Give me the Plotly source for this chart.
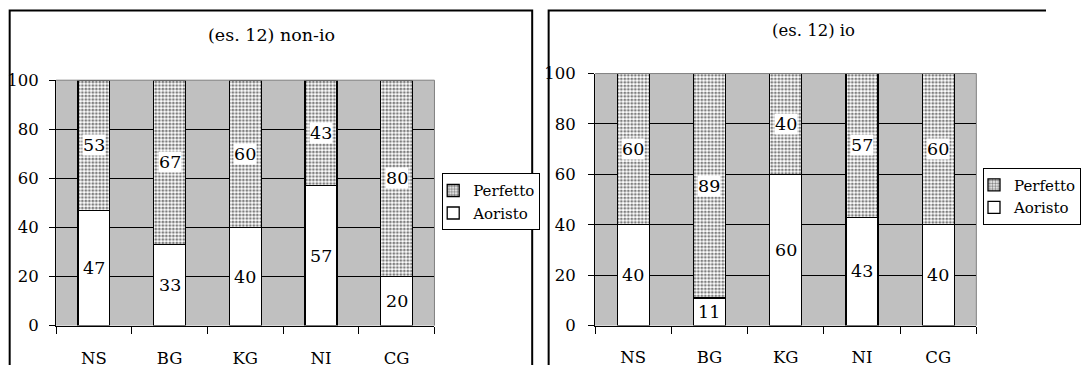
import plotly.graph_objects as go

# Category labels shared by both panels
categories = ["NS", "BG", "KG", "NI", "CG"]

# Panel 1: (es. 12) non-io  -- percentages per speaker group
nonio_aoristo = [47, 33, 40, 57, 20]
nonio_perfetto = [53, 67, 60, 43, 80]

# Panel 2: (es. 12) io
io_aoristo = [40, 11, 60, 43, 40]
io_perfetto = [60, 89, 40, 57, 60]

y_ticks = [0, 20, 40, 60, 80, 100]

W, H = 1081, 375
FONT = "DejaVu Serif"
PLOT_BG = "#c0c0c0"


def px_x(p):
    return p / W


def px_y(p):
    return 1 - p / H


fig = go.Figure()

panels = [
    dict(xa="x", ya="y", legend="legend",
         aor=nonio_aoristo, per=nonio_perfetto),
    dict(xa="x2", ya="y2", legend="legend2",
         aor=io_aoristo, per=io_perfetto),
]

for p in panels:
    fig.add_trace(go.Bar(
        x=categories, y=p["aor"], name="Aoristo",
        xaxis=p["xa"], yaxis=p["ya"], legend=p["legend"], legendrank=2,
        marker=dict(color="white", line=dict(color="black", width=1.3)),
        width=0.42, hoverinfo="skip",
    ))
    fig.add_trace(go.Bar(
        x=categories, y=p["per"], name="Perfetto",
        xaxis=p["xa"], yaxis=p["ya"], legend=p["legend"], legendrank=1,
        marker=dict(color="white", line=dict(color="black", width=1.3),
                    pattern=dict(shape=".", fgcolor="black", bgcolor="white",
                                 size=3.5, solidity=0.5, fillmode="overlay")),
        width=0.42, hoverinfo="skip",
    ))

    # value labels centred in each segment, on a white box
    for cat, a, b in zip(categories, p["aor"], p["per"]):
        for val, mid in ((a, a / 2), (b, a + b / 2)):
            fig.add_annotation(
                x=cat, y=mid, xref=p["xa"], yref=p["ya"], text=str(val),
                showarrow=False, bgcolor="white", borderpad=0,
                font=dict(family=FONT, size=17.5, color="black"),
            )

axis_common = dict(
    showline=True, linecolor="black", linewidth=1,
    ticks="outside", tickcolor="black", tickwidth=1,
    tickfont=dict(family=FONT, size=16.5, color="black"),
    fixedrange=True,
)

legend_common = dict(
    xanchor="left", yanchor="top",
    bgcolor="white", bordercolor="black", borderwidth=1,
    font=dict(family=FONT, size=15, color="black"),
    traceorder="normal", itemwidth=30, indentation=-10,
)

fig.update_layout(
    width=W, height=H,
    margin=dict(l=0, r=0, t=0, b=0),
    paper_bgcolor="white", plot_bgcolor=PLOT_BG,
    barmode="stack",
    font=dict(family=FONT, color="black"),
    xaxis=dict(domain=[px_x(58), px_x(449)], anchor="y",
               tickson="boundaries", ticklen=7, ticklabelstandoff=18,
               showgrid=False, **axis_common),
    yaxis=dict(domain=[px_y(333.5), px_y(75)], anchor="x",
               range=[0, 100], tickvals=y_ticks, ticklen=6,
               ticklabelstandoff=7,
               showgrid=True, gridcolor="black", gridwidth=1,
               zeroline=False, **axis_common),
    xaxis2=dict(domain=[px_x(615), px_x(1009)], anchor="y2",
                tickson="boundaries", ticklen=7, ticklabelstandoff=17,
                showgrid=False, **axis_common),
    yaxis2=dict(domain=[px_y(333.5), px_y(68)], anchor="x2",
                range=[0, 100], tickvals=y_ticks, ticklen=6,
                ticklabelstandoff=9,
                showgrid=True, gridcolor="black", gridwidth=1,
                zeroline=False, **axis_common),
    legend=dict(x=px_x(457), y=px_y(173), **legend_common),
    legend2=dict(x=px_x(1016), y=px_y(167), **legend_common),
    showlegend=True,
)

# chart titles
fig.add_annotation(x=px_x(281), y=px_y(27), xref="paper", yref="paper",
                   xanchor="center", yanchor="middle",
                   text="(es. 12) non-io", showarrow=False,
                   font=dict(family=FONT, size=17.5, color="black"))
fig.add_annotation(x=px_x(841), y=px_y(23), xref="paper", yref="paper",
                   xanchor="center", yanchor="middle",
                   text="(es. 12) io", showarrow=False,
                   font=dict(family=FONT, size=16.5, color="black"))

# gray top/right edge of each plot area
for xr, yr in (("x", "y"), ("x2", "y2")):
    fig.add_shape(type="line", xref=f"{xr} domain", yref=f"{yr} domain",
                  x0=0, x1=1, y0=1, y1=1,
                  line=dict(color="#808080", width=1), layer="above")
    fig.add_shape(type="line", xref=f"{xr} domain", yref=f"{yr} domain",
                  x0=1, x1=1, y0=0, y1=1,
                  line=dict(color="#808080", width=1), layer="below")

# outer chart frames, open at the page edges
lx0, lx1, ly1 = px_x(10), px_x(550), px_y(1.5)
rx0, ry1 = px_x(567), px_y(1.5)
fig.add_shape(type="path", xref="paper", yref="paper",
              path=f"M {lx0},0 L {lx0},{ly1} L {lx1},{ly1} L {lx1},0",
              line=dict(color="black", width=2))
fig.add_shape(type="path", xref="paper", yref="paper",
              path=f"M {rx0},0 L {rx0},{ry1} L 1,{ry1}",
              line=dict(color="black", width=2))

# page body without default margin so the figure fills the window exactly
fig.write_html(
    "out.html",
    post_script="document.body.style.margin='0';"
                "document.body.style.overflow='hidden';",
)
